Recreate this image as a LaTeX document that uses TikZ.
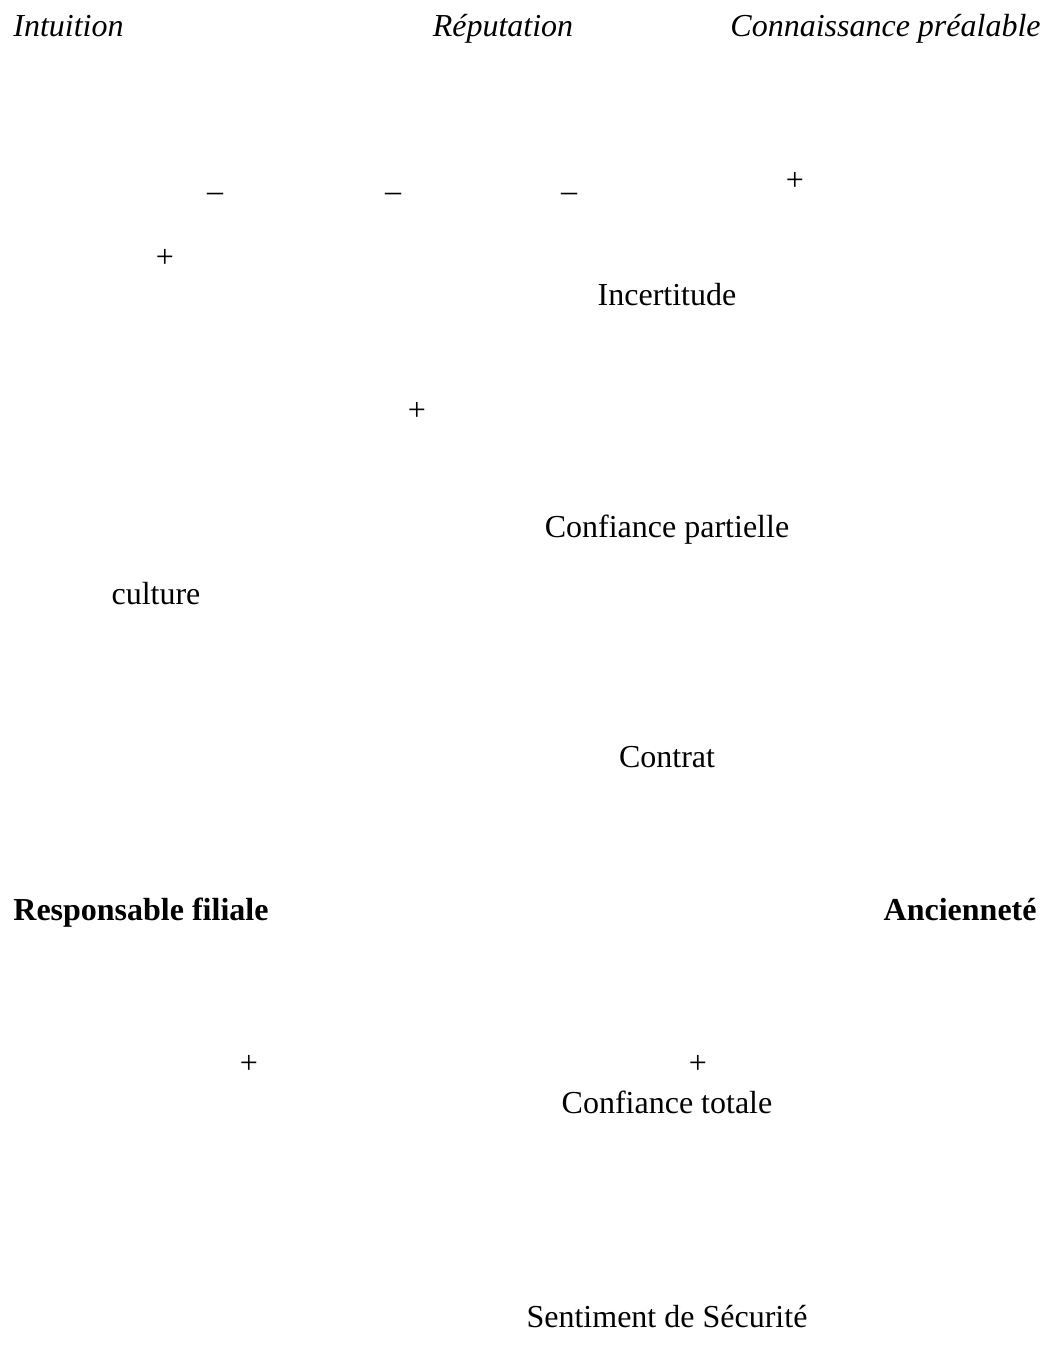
\documentclass[tikz,border=0pt]{standalone}
\usepackage{fontspec}
\setmainfont{Liberation Serif}
\begin{document}
\begin{tikzpicture}[
  x=0.5pt, y=-0.5pt,
  fact/.style={inner sep=0pt, anchor=base, font=\fontsize{16}{19}\selectfont},
  srcfact/.style={fact, font=\fontsize{16}{19}\selectfont\itshape},
  keyfact/.style={fact, font=\fontsize{16}{19}\selectfont\bfseries},
  sign/.style={inner sep=0pt, anchor=center, font=\fontsize{16}{19}\selectfont}
]
  % Cadre de la figure (en pixels de la référence)
  \useasboundingbox (0,0) rectangle (1041,1345);

  % Sources de la confiance
  \node[srcfact, anchor=base west] (intu) at (13,36) {Intuition};
  \node[srcfact] (repu) at (503,36) {Réputation};
  \node[srcfact, anchor=base east] (conn) at (1041,36) {Connaissance préalable};

  % Signes
  \node[sign] (m1) at (215,197) {–};
  \node[sign] (m2) at (393,197) {–};
  \node[sign] (m3) at (569,197) {–};
  \node[sign] (p1) at (795,181) {+};
  \node[sign] (p2) at (165,258) {+};
  \node[sign] (p3) at (417,411) {+};
  \node[sign] (p4) at (249,1064) {+};
  \node[sign] (p5) at (698,1064) {+};

  % Etats
  \node[fact] (incert) at (667,305) {Incertitude};
  \node[fact] (cpart) at (667,537) {Confiance partielle};
  \node[fact] (cult) at (156,604) {culture};
  \node[fact] (contrat) at (667,767) {Contrat};
  \node[keyfact, anchor=base west] (resp) at (13,920) {Responsable filiale};
  \node[keyfact, anchor=base east] (anc) at (1037,920) {Ancienneté};
  \node[fact] (ctot) at (667,1113) {Confiance totale};
  \node[fact] (secu) at (667,1327) {Sentiment de Sécurité};
\end{tikzpicture}
\end{document}
